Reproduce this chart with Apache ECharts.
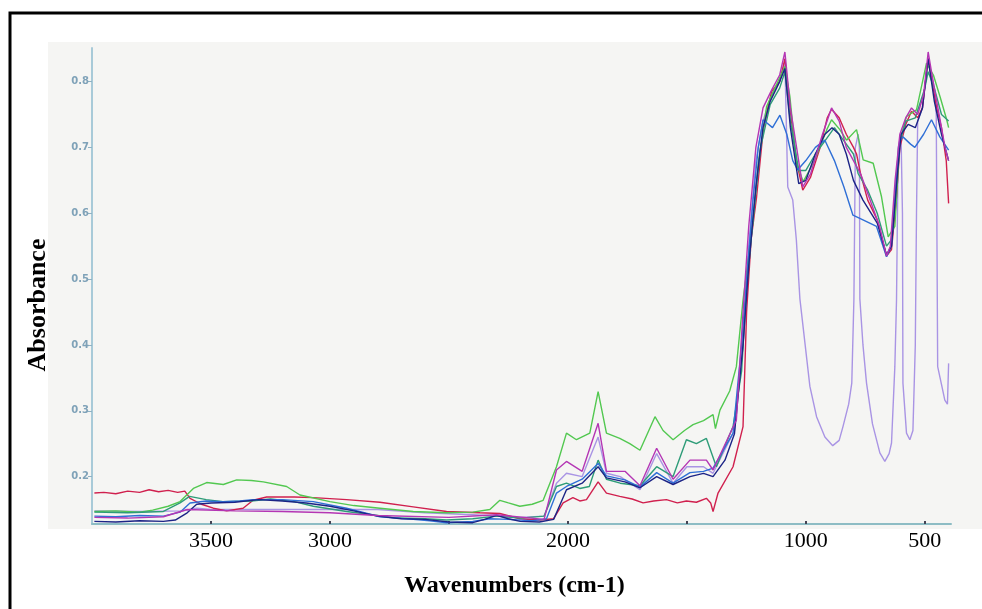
<!DOCTYPE html>
<html>
<head>
<meta charset="utf-8">
<script src="https://cdn.jsdelivr.net/npm/echarts@6/dist/echarts.min.js"></script>
<style>
  html, body { margin: 0; padding: 0; background: #fff; }
  #chart { width: 982px; height: 609px; }
</style>
</head>
<body>
<div id="chart"></div>
<script>
// [wavenumber, absorbance]
const red = [[3990,0.175],[3950,0.176],[3900,0.174],[3850,0.178],[3800,0.176],[3760,0.180],[3720,0.177],[3680,0.179],[3640,0.176],[3610,0.178],[3588,0.167],[3540,0.158],[3490,0.152],[3434,0.148],[3365,0.152],[3323,0.164],[3266,0.169],[3150,0.169],[3070,0.168],[2930,0.165],[2790,0.161],[2650,0.154],[2510,0.147],[2370,0.145],[2286,0.144],[2202,0.136],[2120,0.134],[2060,0.136],[2020,0.160],[1979,0.168],[1950,0.163],[1922,0.165],[1873,0.192],[1838,0.175],[1782,0.170],[1730,0.166],[1684,0.160],[1640,0.163],[1586,0.165],[1540,0.160],[1502,0.163],[1460,0.161],[1418,0.167],[1400,0.160],[1390,0.147],[1369,0.175],[1306,0.215],[1264,0.276],[1249,0.45],[1230,0.56],[1207,0.625],[1179,0.727],[1144,0.785],[1110,0.80],[1088,0.835],[1070,0.77],[1040,0.68],[1013,0.635],[980,0.655],[940,0.70],[910,0.745],[892,0.758],[860,0.745],[830,0.72],[800,0.70],[787,0.69],[770,0.66],[740,0.62],[700,0.59],[661,0.535],[640,0.545],[620,0.62],[605,0.70],[580,0.735],[556,0.755],[530,0.745],[510,0.76],[486,0.835],[470,0.80],[450,0.76],[430,0.73],[410,0.68],[400,0.615]];

const green = [[3990,0.147],[3900,0.148],[3800,0.146],[3745,0.149],[3680,0.155],[3630,0.162],[3574,0.182],[3518,0.191],[3448,0.188],[3392,0.195],[3330,0.194],[3280,0.192],[3182,0.185],[3126,0.172],[3000,0.162],[2900,0.156],[2790,0.152],[2650,0.147],[2510,0.145],[2400,0.146],[2328,0.150],[2286,0.164],[2250,0.160],[2202,0.155],[2150,0.158],[2104,0.164],[2048,0.215],[2006,0.266],[1964,0.256],[1908,0.266],[1873,0.329],[1838,0.266],[1782,0.258],[1740,0.250],[1697,0.240],[1634,0.291],[1600,0.270],[1558,0.256],[1510,0.270],[1474,0.279],[1430,0.285],[1390,0.294],[1380,0.273],[1361,0.301],[1320,0.33],[1292,0.367],[1264,0.468],[1222,0.587],[1200,0.676],[1165,0.762],[1130,0.79],[1088,0.823],[1067,0.777],[1039,0.676],[1011,0.648],[969,0.676],[912,0.727],[892,0.742],[857,0.727],[829,0.711],[787,0.727],[759,0.681],[717,0.676],[682,0.625],[654,0.564],[626,0.58],[605,0.711],[577,0.747],[535,0.757],[493,0.828],[464,0.81],[436,0.777],[408,0.742],[400,0.73]];

const teal = [[3990,0.146],[3850,0.145],[3700,0.147],[3630,0.160],[3590,0.170],[3520,0.165],[3450,0.162],[3330,0.163],[3250,0.166],[3150,0.162],[3070,0.155],[2930,0.147],[2800,0.141],[2720,0.137],[2600,0.136],[2510,0.134],[2400,0.136],[2300,0.140],[2200,0.137],[2100,0.140],[2048,0.185],[2006,0.19],[1950,0.182],[1910,0.185],[1873,0.225],[1838,0.196],[1780,0.190],[1697,0.186],[1627,0.215],[1558,0.200],[1502,0.256],[1460,0.250],[1418,0.258],[1376,0.215],[1306,0.276],[1270,0.36],[1250,0.48],[1220,0.60],[1190,0.70],[1150,0.765],[1110,0.79],[1088,0.815],[1065,0.74],[1030,0.665],[1000,0.665],[960,0.69],[910,0.715],[880,0.73],[850,0.715],[800,0.69],[780,0.66],[740,0.635],[700,0.60],[661,0.55],[640,0.56],[610,0.70],[580,0.74],[540,0.745],[500,0.79],[486,0.815],[460,0.79],[430,0.75],[400,0.74]];

const blue = [[3990,0.140],[3900,0.139],[3800,0.141],[3700,0.140],[3630,0.146],[3588,0.160],[3520,0.163],[3450,0.162],[3380,0.163],[3323,0.165],[3200,0.165],[3070,0.162],[2930,0.152],[2790,0.139],[2650,0.135],[2580,0.133],[2510,0.130],[2400,0.132],[2328,0.136],[2250,0.135],[2150,0.133],[2090,0.136],[2048,0.175],[2006,0.185],[1940,0.196],[1873,0.22],[1838,0.201],[1760,0.195],[1697,0.184],[1627,0.206],[1558,0.19],[1487,0.206],[1430,0.208],[1390,0.213],[1306,0.266],[1270,0.40],[1249,0.50],[1222,0.62],[1200,0.70],[1180,0.742],[1140,0.73],[1109,0.749],[1080,0.72],[1055,0.68],[1034,0.666],[1000,0.68],[960,0.70],[920,0.711],[880,0.68],[840,0.64],[802,0.597],[760,0.59],[703,0.58],[661,0.534],[640,0.55],[620,0.65],[605,0.711],[592,0.716],[560,0.705],[542,0.70],[505,0.72],[472,0.742],[437,0.716],[400,0.696]];

const navy = [[3990,0.132],[3900,0.131],[3800,0.133],[3700,0.132],[3650,0.134],[3600,0.145],[3560,0.158],[3500,0.160],[3400,0.161],[3300,0.165],[3200,0.163],[3100,0.160],[3000,0.155],[2900,0.148],[2800,0.140],[2700,0.136],[2600,0.135],[2500,0.131],[2400,0.130],[2350,0.135],[2300,0.141],[2250,0.136],[2200,0.132],[2120,0.131],[2060,0.135],[2030,0.160],[2006,0.180],[1940,0.190],[1873,0.215],[1838,0.198],[1760,0.192],[1697,0.183],[1627,0.200],[1558,0.188],[1487,0.200],[1430,0.205],[1390,0.200],[1340,0.225],[1300,0.265],[1264,0.40],[1240,0.52],[1210,0.64],[1180,0.73],[1150,0.77],[1110,0.80],[1088,0.82],[1065,0.73],[1030,0.645],[1000,0.65],[960,0.69],[920,0.72],[890,0.73],[860,0.72],[830,0.69],[800,0.65],[760,0.62],[700,0.585],[661,0.537],[640,0.55],[615,0.66],[600,0.72],[570,0.735],[540,0.73],[510,0.76],[486,0.835],[460,0.77],[430,0.72],[400,0.68]];

const magenta = [[3990,0.138],[3850,0.137],[3700,0.139],[3600,0.150],[3400,0.148],[3200,0.147],[3000,0.145],[2800,0.141],[2500,0.138],[2300,0.142],[2100,0.135],[2048,0.21],[2006,0.223],[1940,0.208],[1873,0.281],[1838,0.208],[1760,0.208],[1697,0.186],[1627,0.243],[1558,0.196],[1487,0.225],[1418,0.225],[1390,0.21],[1292,0.286],[1264,0.45],[1240,0.58],[1210,0.70],[1180,0.76],[1144,0.787],[1110,0.81],[1088,0.845],[1065,0.76],[1013,0.64],[980,0.66],[930,0.72],[892,0.76],[860,0.74],[830,0.70],[800,0.68],[770,0.66],[730,0.62],[690,0.58],[661,0.535],[645,0.55],[625,0.65],[605,0.72],[580,0.745],[556,0.76],[530,0.75],[505,0.78],[486,0.845],[465,0.80],[440,0.75],[415,0.70],[400,0.68]];

const lavender = [[3990,0.148],[3800,0.147],[3620,0.148],[3560,0.152],[3500,0.150],[3200,0.150],[2800,0.150],[2600,0.145],[2400,0.142],[2200,0.138],[2100,0.140],[2048,0.19],[2006,0.205],[1940,0.20],[1873,0.26],[1838,0.205],[1780,0.20],[1697,0.18],[1627,0.235],[1558,0.19],[1500,0.215],[1430,0.215],[1390,0.205],[1300,0.27],[1264,0.40],[1240,0.55],[1210,0.68],[1180,0.74],[1144,0.78],[1110,0.80],[1088,0.83],[1076,0.64],[1055,0.62],[1040,0.56],[1025,0.47],[983,0.337],[955,0.291],[920,0.26],[887,0.247],[860,0.255],[844,0.276],[820,0.31],[807,0.342],[798,0.47],[792,0.70],[780,0.72],[775,0.70],[773,0.47],[760,0.40],[745,0.342],[720,0.28],[689,0.236],[668,0.223],[650,0.235],[640,0.251],[626,0.367],[619,0.468],[612,0.70],[600,0.72],[594,0.60],[592,0.342],[577,0.266],[563,0.256],[550,0.27],[540,0.40],[535,0.60],[530,0.74],[510,0.76],[486,0.835],[460,0.79],[452,0.75],[446,0.367],[430,0.34],[416,0.316],[405,0.31],[400,0.372]];

const xLabels = [3500, 3000, 2000, 1000, 500];
const xTicks = [3500, 3000, 2500, 2000, 1500, 1000, 500];
const yLabels = [0.2, 0.3, 0.4, 0.5, 0.6, 0.7, 0.8];

const seriesList = [
  { name: 'lavender', data: lavender, color: '#a994e4' },
  { name: 'red', data: red, color: '#d0204e' },
  { name: 'green', data: green, color: '#52c850' },
  { name: 'teal', data: teal, color: '#2e9c78' },
  { name: 'blue', data: blue, color: '#2f6fd6' },
  { name: 'navy', data: navy, color: '#1c2486' },
  { name: 'magenta', data: magenta, color: '#b436b4' }
];

const chart = echarts.init(document.getElementById('chart'), null, { renderer: 'canvas' });

const option = {
  animation: false,
  backgroundColor: '#ffffff',
  graphic: [
    { type: 'rect', z: -100, shape: { x: 48, y: 42, width: 934, height: 487 }, style: { fill: '#f5f5f3' } },
    { type: 'polyline', z: 100, shape: { points: [[10, 609], [10, 13], [982, 13]] }, style: { stroke: '#000', lineWidth: 3, fill: null } },
    {
      type: 'text', x: 38, y: 305, rotation: Math.PI / 2,
      style: { text: 'Absorbance', font: 'bold 26px "Liberation Serif"', fill: '#000', textAlign: 'center', textVerticalAlign: 'middle' }
    }
  ],
  grid: { left: 92, right: 31, top: 48, bottom: 85 },
  xAxis: {
    type: 'value',
    inverse: true,
    min: 390,
    max: 4000,
    name: 'Wavenumbers (cm-1)',
    nameLocation: 'middle',
    nameGap: 50,
    nameTextStyle: { fontFamily: 'Liberation Serif', fontWeight: 'bold', fontSize: 24, color: '#000', padding: [0, 14, 0, 0] },
    axisLine: { lineStyle: { color: '#8dbcc4', width: 2 } },
    axisTick: { customValues: xTicks, inside: true, length: 3, lineStyle: { color: '#445', width: 2 } },
    axisLabel: {
      customValues: xLabels, fontFamily: 'Liberation Serif', fontSize: 22, color: '#000', margin: 6,
      formatter: v => String(v)
    },
    splitLine: { show: false }
  },
  yAxis: {
    type: 'value',
    min: 0.128,
    max: 0.851,
    axisLine: { show: true, lineStyle: { color: '#a8cad8', width: 2 } },
    axisTick: { customValues: yLabels, length: 4, lineStyle: { color: '#8fb2c4' } },
    axisLabel: {
      customValues: yLabels, fontSize: 10, fontWeight: 'bold', color: '#7fa2b8', margin: 3,
      fontFamily: 'DejaVu Sans',
      formatter: v => v.toFixed(1)
    },
    splitLine: { show: false }
  },
  series: seriesList.map(s => ({
    name: s.name,
    type: 'line',
    data: s.data,
    showSymbol: false,
    smooth: false,
    lineStyle: { color: s.color, width: 1.4 },
    itemStyle: { color: s.color }
  }))
};

chart.setOption(option);
</script>
</body>
</html>
